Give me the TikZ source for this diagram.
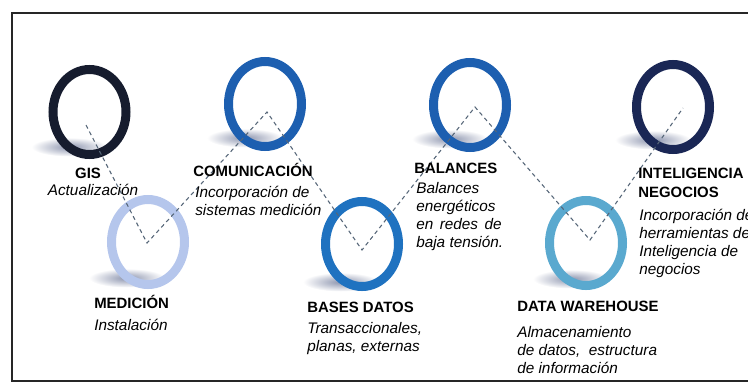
\documentclass[tikz,border=0pt]{standalone}
\usepackage{fontspec}
\setmainfont{Liberation Sans}
\usepackage{tikz}
\usetikzlibrary{shapes,positioning,backgrounds}

\definecolor{navy}{HTML}{161C2E}
\definecolor{darkblue}{HTML}{1A2755}
\definecolor{midblue}{HTML}{1D5FB0}
\definecolor{brightblue}{HTML}{1F72C0}
\definecolor{paleblue}{HTML}{B5C6EC}
\definecolor{skyblue}{HTML}{5AA9CF}
\definecolor{dashgray}{HTML}{566678}
\definecolor{shadowgray}{HTML}{8C94AE}

\begin{document}
\begin{tikzpicture}[
    x=0.75pt, y=-0.75pt,
    ring/.style={ellipse, draw=#1, line width=6.75pt, minimum width=54.75pt, minimum height=63.75pt, inner sep=0pt},
    title/.style={anchor=base west, inner sep=0pt, align=left, font=\bfseries\fontsize{11.2}{14.25}\selectfont},
    desc/.style={anchor=base west, inner sep=0pt, align=left, font=\itshape\fontsize{11.5}{13.5}\selectfont},
    zigzag/.style={draw=dashgray, line width=0.8pt, dash pattern=on 3pt off 2.5pt},
    frame/.style={draw=black!85, line width=1.6pt}
]
    \useasboundingbox (0,0) rectangle (748,386);
    \draw[frame] (748,13) -- (12,13) -- (12,381) -- (748,381);

    % rings
    \node[ring=navy] (gis) at (89.5,112) {};
    \node[ring=paleblue] (med) at (148,242) {};
    \node[ring=midblue] (com) at (265,104) {};
    \node[ring=brightblue] (bas) at (362,244) {};
    \node[ring=midblue] (bal) at (470,105) {};
    \node[ring=skyblue] (dw) at (586,243) {};
    \node[ring=darkblue] (int) at (673,107) {};

    % shadows
    \begin{scope}[on background layer]
        \foreach \n/\dx/\dy in {gis/-20/35, med/-21/36, com/-20/34, bas/-21/38, bal/-20/34, dw/-15/36, int/-20/33}
            \shade[inner color=shadowgray, outer color=white] ([shift={(\dx,\dy)}]\n.center) ellipse [x radius=38, y radius=9.5];
    \end{scope}

    \draw[zigzag] ([shift={(-3.5,13)}]gis.center) -- ([shift={(-1,1)}]med.center) -- ([shift={(2,8)}]com.center)
        -- ([shift={(0,6)}]bas.center) -- ([shift={(5,2)}]bal.center) -- ([shift={(4,-3)}]dw.center) -- ([shift={(10,1)}]int.center);

    % labels (multi-line texts sit on their last baseline)
    \node[title, anchor=base] (gist) at (88,178) {GIS};
    \node[desc, anchor=base] (gisd) at (93,195) {Actualización};
    \node[title] (comt) at (193,176) {COMUNICACIÓN};
    \node[desc] (comd) at (195,215) {Incorporación de\\sistemas medición};
    \node[title] (medt) at (94,308) {MEDICIÓN};
    \node[desc] (medd) at (94,330) {Instalación};
    \node[title] (bast) at (307,312) {BASES DATOS};
    \node[desc] (basd) at (307,351) {Transaccionales,\\planas, externas};
    \node[title] (balt) at (414,173) {BALANCES};
    \node[desc] (bald) at (416,247) {Balances\\energéticos\\\makebox[64pt][s]{en redes de}\\baja tensión.};
    \node[title] (intt) at (638,197) {INTELIGENCIA\\NEGOCIOS};
    \node[desc] (intd) at (639,274) {Incorporación de\\herramientas de\\Inteligencia de\\negocios};
    \node[title] (dwt) at (517,311) {DATA WAREHOUSE};
    \node[desc] (dwd) at (517,373) {Almacenamiento\\de datos,\ \ estructura\\de información};
\end{tikzpicture}
\end{document}
